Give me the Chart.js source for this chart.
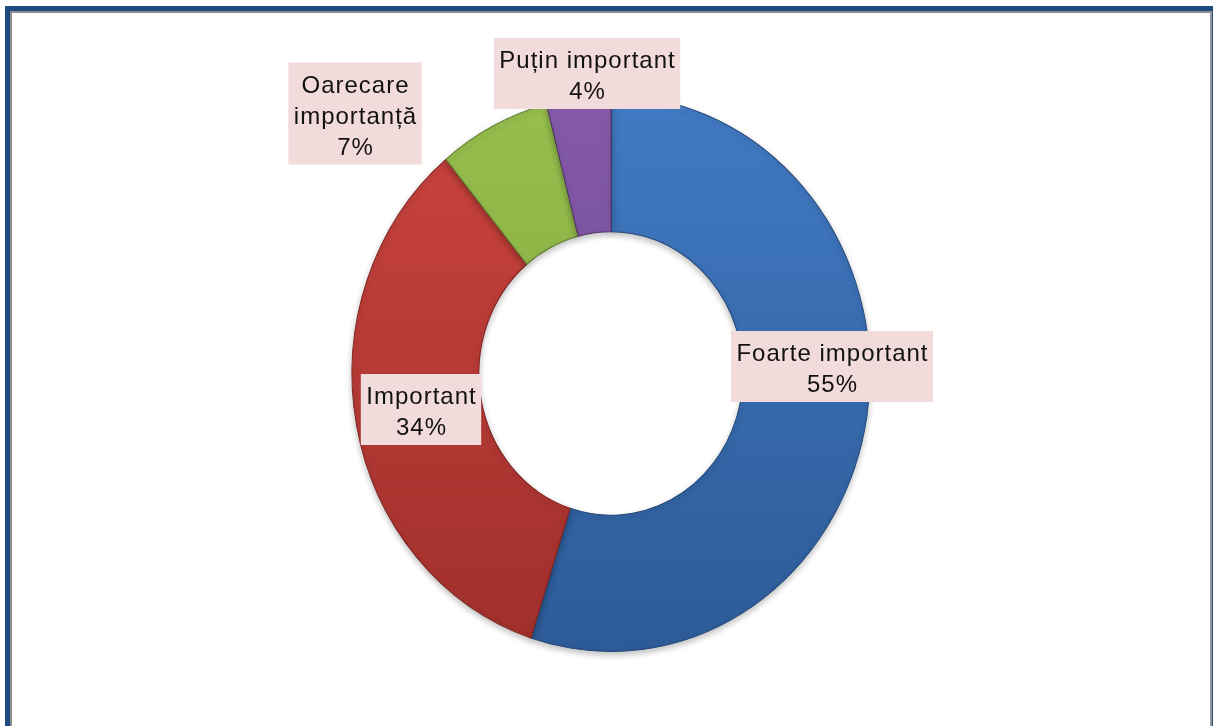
<!DOCTYPE html>
<html>
<head>
<meta charset="utf-8">
<script src="https://cdn.jsdelivr.net/npm/chart.js@4.4.1/dist/chart.umd.min.js"></script>
<style>
    html, body { margin: 0; padding: 0; background: #ffffff; overflow: hidden; }
    .frame {
        position: absolute; left: 5px; top: 6px; width: 1212px; height: 800px;
        box-sizing: border-box; border: 5px solid #1f4a7e;
    }
    .frame-inner {
        position: absolute; left: 0; top: 0; right: 0; bottom: 0;
        border: 2px solid #8e8e8e; border-right-color: #9a9a9a;
    }
    #chart { position: absolute; left: 0; top: 0; }
</style>
</head>
<body>
<div class="frame"><div class="frame-inner"></div></div>
<canvas id="chart" width="1213" height="726"></canvas>
<script>
// data
const categories = ["Foarte important", "Important", "Oarecare importanță", "Puțin important"];
const labelLines = [["Foarte important"], ["Important"], ["Oarecare", "importanță"], ["Puțin important"]];
const percentValues = [55, 34, 7, 4];

// look
const topColors = ["#417ac3", "#cb443f", "#96bf4e", "#845aa8"];
const bottomColors = ["#2d5b98", "#a02f2b", "#7ea43b", "#6c458f"];
const edgeColors = ["#24497a", "#7e2522", "#617e2e", "#523569"];
const squash = 278 / 259; // ring is a bit taller than wide
// label box centres, relative to the ring centre
const labelOffsets = [[221, -7], [-190, 36], [-256, -260], [-24, -300]];

function ringFill(context) {
    const chart = context.chart;
    const area = chart.chartArea;
    const i = context.dataIndex;
    if (!area) return topColors[i];
    const cy = (area.top + area.bottom) / 2;
    const r = Math.min(area.width, area.height) / 2;
    const g = chart.ctx.createLinearGradient(0, cy - r, 0, cy + r);
    g.addColorStop(0, topColors[i]);
    g.addColorStop(1, bottomColors[i]);
    return g;
}

const squashPlugin = {
    id: "squash",
    beforeDatasetsDraw(chart) {
        const arc = chart.getDatasetMeta(0).data[0];
        const ctx = chart.ctx;
        ctx.save();
        ctx.translate(arc.x, arc.y);
        ctx.scale(1, squash);
        ctx.translate(-arc.x, -arc.y);
        ctx.shadowColor = "rgba(0, 0, 0, 0.25)";
        ctx.shadowBlur = 6;
        ctx.shadowOffsetY = 3;
    },
    afterDatasetsDraw(chart) {
        chart.ctx.restore();
    }
};

const boxLabels = {
    id: "boxLabels",
    afterDraw(chart) {
        const ctx = chart.ctx;
        const arc = chart.getDatasetMeta(0).data[0];
        const lineH = 31;
        ctx.save();
        ctx.font = "24px 'Liberation Sans', Arial, sans-serif";
        ctx.letterSpacing = "1px";
        ctx.textAlign = "center";
        ctx.textBaseline = "alphabetic";
        categories.forEach((name, i) => {
            const lines = labelLines[i].concat([percentValues[i] + "%"]);
            const w = Math.max(...lines.map(t => ctx.measureText(t).width)) + 10;
            const h = lines.length * lineH + 9;
            const cx = arc.x + labelOffsets[i][0];
            const cy = arc.y + labelOffsets[i][1];
            const top = cy - h / 2;
            ctx.fillStyle = "#f2dcdb";
            ctx.fillRect(cx - w / 2, top, w, h);
            ctx.fillStyle = "#111111";
            lines.forEach((t, k) => ctx.fillText(t, cx + 0.5, top + 30 + k * lineH));
        });
        ctx.restore();
    }
};

new Chart(document.getElementById("chart"), {
    type: "doughnut",
    data: {
        labels: categories,
        datasets: [{
            data: percentValues,
            backgroundColor: ringFill,
            borderColor: edgeColors,
            borderWidth: 1
        }]
    },
    options: {
        responsive: false,
        animation: false,
        cutout: "51%",
        layout: { padding: { left: 9, right: 0, top: 114, bottom: 93 } },
        plugins: {
            legend: { display: false },
            tooltip: { enabled: false }
        }
    },
    plugins: [squashPlugin, boxLabels]
});
</script>
</body>
</html>
